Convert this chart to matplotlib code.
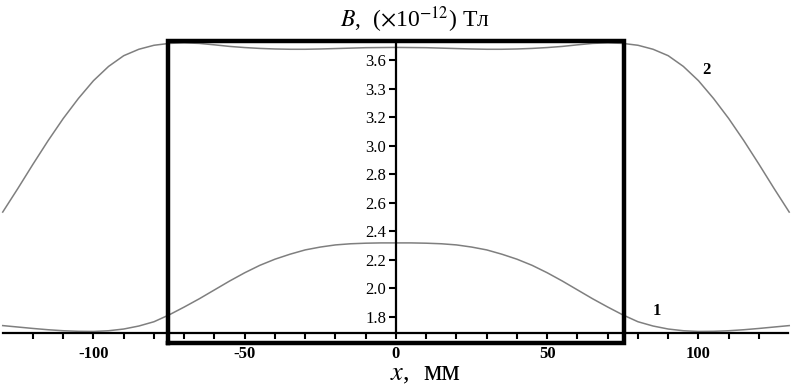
import matplotlib
matplotlib.use("Agg")
import matplotlib.pyplot as plt

# Data (x in mm, B in 1e-12 T)
# -------------------------------------------------------------------------
x_mm = [-130, -125, -120, -115, -110, -105, -100, -95, -90, -85, -80, -75,
        -70, -65, -60, -55, -50, -45, -40, -35, -30, -25, -20, -15, -10, -5,
        0, 5, 10, 15, 20, 25, 30, 35, 40, 45, 50, 55, 60, 65, 70, 75, 80,
        85, 90, 95, 100, 105, 110, 115, 120, 125, 130]

b_curve1 = [1.740, 1.730, 1.720, 1.711, 1.704, 1.700, 1.699, 1.704, 1.716,
            1.737, 1.767, 1.815, 1.870, 1.928, 1.990, 2.052, 2.110, 2.162,
            2.205, 2.240, 2.270, 2.290, 2.305, 2.313, 2.317, 2.319, 2.319,
            2.319, 2.317, 2.313, 2.305, 2.290, 2.270, 2.240, 2.205, 2.162,
            2.110, 2.052, 1.990, 1.928, 1.870, 1.815, 1.767, 1.737, 1.716,
            1.704, 1.699, 1.700, 1.704, 1.711, 1.720, 1.730, 1.740]

b_curve2 = [2.535, 2.700, 2.870, 3.035, 3.190, 3.330, 3.455, 3.555, 3.630,
            3.675, 3.703, 3.716, 3.720, 3.716, 3.706, 3.695, 3.687, 3.681,
            3.677, 3.675, 3.675, 3.677, 3.680, 3.683, 3.686, 3.687, 3.688,
            3.687, 3.686, 3.683, 3.680, 3.677, 3.675, 3.675, 3.677, 3.681,
            3.687, 3.695, 3.706, 3.716, 3.720, 3.716, 3.703, 3.675, 3.630,
            3.555, 3.455, 3.330, 3.190, 3.035, 2.870, 2.700, 2.535]

x_major = [-100, -50, 0, 50, 100]
x_major_labels = ["-100", "-50", "0", "50", "100"]
x_minor = [-120, -110, -90, -80, -70, -60, -40, -30, -20, -10,
           10, 20, 30, 40, 60, 70, 80, 90, 110, 120]
y_ticks = [1.8, 2.0, 2.2, 2.4, 2.6, 2.8, 3.0, 3.2, 3.4, 3.6]
y_labels = ["1.8", "2.0", "2.2", "2.4", "2.6", "2.8", "3.0", "3.2", "3.3", "3.6"]
curve_names = ["1", "2"]

# Plot
# -------------------------------------------------------------------------
plt.rcParams["font.family"] = ["Liberation Serif", "DejaVu Serif"]
plt.rcParams["mathtext.fontset"] = "stix"

W, H = 801, 391
fig = plt.figure(figsize=(W / 100, H / 100), dpi=100)
ax = fig.add_axes([0, 0, 1, 1])
ax.set_xlim(-130.9, 133.9)
ax.set_ylim(1.282, 4.02)

gray = "#7f7f7f"
ax.plot(x_mm, b_curve1, color=gray, lw=1.1, zorder=2)
ax.plot(x_mm, b_curve2, color=gray, lw=1.1, zorder=2)

# thick frame
bx0, bx1, by0, by1 = -75.5, 75.5, 1.618, 3.733
ax.plot([bx0, bx1, bx1, bx0, bx0], [by0, by0, by1, by1, by0],
        color="black", lw=3.2, solid_joinstyle="miter", zorder=4)

# axes through the origin
for side in ["top", "right"]:
    ax.spines[side].set_visible(False)
ax.spines["bottom"].set_position(("data", 1.688))
ax.spines["left"].set_position(("data", 0))
ax.spines["bottom"].set_bounds(-130, 129.5)
ax.spines["left"].set_bounds(1.688, 3.733)
for side in ["bottom", "left"]:
    ax.spines[side].set_linewidth(1.6)
    ax.spines[side].set_zorder(3)

ax.set_xticks(x_major)
ax.set_xticklabels(x_major_labels, fontweight="bold", fontsize=12)
ax.set_xticks(x_minor, minor=True)
ax.tick_params(axis="x", which="both", direction="out", length=4, width=1.5, pad=5)
ax.set_yticks(y_ticks)
ax.set_yticklabels(y_labels, fontsize=12)
ax.tick_params(axis="y", direction="out", length=5, width=1.5, pad=2)

ax.text(86.3, 1.84, curve_names[0], fontweight="bold", fontsize=12,
        ha="center", va="center")
ax.text(102.8, 3.53, curve_names[1], fontweight="bold", fontsize=12,
        ha="center", va="center")

fig.text(415 / W, 1 - 27 / H, r"$B$,  ($\times$10$^{-12}$) Тл",
         ha="center", va="baseline", fontsize=17)
fig.text(390 / W, 1 - 380 / H, r"$x$,", ha="left", va="baseline", fontsize=19)
fig.text(442 / W, 1 - 380 / H, "мм", ha="center", va="baseline", fontsize=21)

fig.savefig("out.png", dpi=100)
